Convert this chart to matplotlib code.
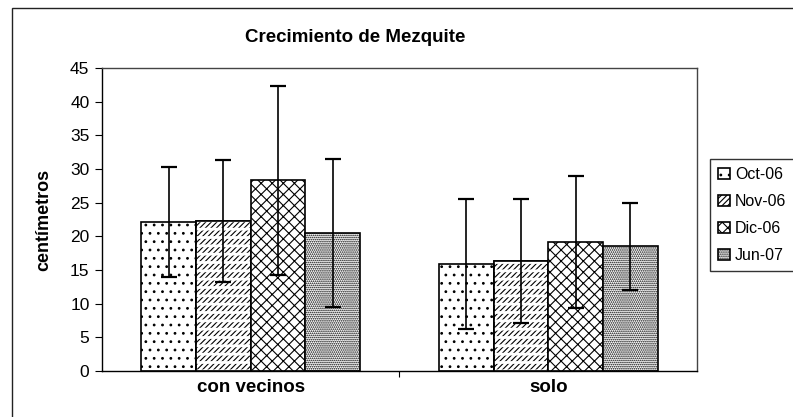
import numpy as np
import matplotlib.pyplot as plt
from matplotlib.patches import Rectangle

plt.rcParams['font.family'] = ['Liberation Sans', 'DejaVu Sans']
plt.rcParams['hatch.linewidth'] = 0.8

# data
categories = ['con vecinos', 'solo']
series = ['Oct-06', 'Nov-06', 'Dic-06', 'Jun-07']
means = {
    'Oct-06': [22.1, 15.9],
    'Nov-06': [22.3, 16.3],
    'Dic-06': [28.3, 19.2],
    'Jun-07': [20.5, 18.5],
}
errors = {
    'Oct-06': [8.2, 9.6],
    'Nov-06': [9.1, 9.2],
    'Dic-06': [14.0, 9.8],
    'Jun-07': [11.0, 6.4],
}
hatches = ['..', '//////', 'xxx', '........']

fig = plt.figure(figsize=(7.93, 4.17), dpi=100)
ax = fig.add_axes([102 / 793, 1 - 371 / 417, 595 / 793, 303 / 417])

# outer chart border (left and top visible)
fig.patches.append(Rectangle((12 / 793, -0.1), 1.2, 1 - 8 / 417 + 0.1,
                             transform=fig.transFigure, fill=False,
                             edgecolor='#222222', linewidth=1.0))

x = np.arange(len(categories))
width = 0.184
for i, s in enumerate(series):
    pos = x + (i - 1.5) * width
    ax.bar(pos, means[s], width, color='white', edgecolor='black',
           hatch=hatches[i], linewidth=1.2, label=s)
    if s == 'Nov-06':
        # white horizontal gaps break the diagonals into short dashes
        gaps = ax.bar(pos, means[s], width, color='none', edgecolor='white',
                      hatch='--', linewidth=0)
        for p in gaps:
            if hasattr(p, 'set_hatch_linewidth'):
                p.set_hatch_linewidth(2.0)
        ax.bar(pos, means[s], width, color='none', edgecolor='black',
               linewidth=1.2)
    ax.errorbar(pos, means[s], yerr=errors[s], fmt='none', ecolor='black',
                elinewidth=1.2, capsize=6, capthick=1.6)

ax.set_xlim(-0.5, 1.5)
ax.set_ylim(0, 45)
ax.set_yticks(range(0, 50, 5))
ax.set_xticks([0.5])
ax.set_xticklabels([''])
ax.tick_params(axis='x', length=4, direction='out')
ax.tick_params(axis='y', length=5, direction='out', labelsize=12.5, pad=4)
for i, c in enumerate(categories):
    ax.text(i, -2.5, c, ha='center', va='center', fontsize=13.5,
            fontweight='bold')

for side in ['top', 'right', 'bottom', 'left']:
    ax.spines[side].set_linewidth(1.0)
ax.spines['top'].set_color('#444444')
ax.spines['right'].set_color('#444444')

ax.set_ylabel('centímetros', fontsize=13, fontweight='bold', labelpad=13)
fig.text(355 / 793, 1 - 37 / 417, 'Crecimiento de Mezquite', ha='center',
         va='center', fontsize=13.5, fontweight='bold')

leg = fig.legend(loc='upper left', bbox_to_anchor=(710 / 793, 1 - 159 / 417),
                 frameon=True, fancybox=False, edgecolor='black', fontsize=11.5,
                 handlelength=0.75, handleheight=0.75, handletextpad=0.3,
                 labelspacing=0.75, borderpad=0.5, borderaxespad=0)
leg.get_frame().set_linewidth(1.0)

fig.savefig('out.png', dpi=100)
